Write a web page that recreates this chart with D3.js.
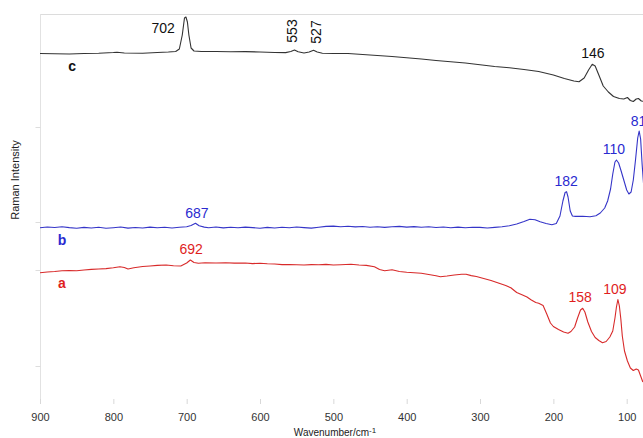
<!DOCTYPE html>
<html>
<head>
<meta charset="utf-8">
<script src="https://cdn.jsdelivr.net/npm/d3@7"></script>
<style>
  body { margin: 0; background: #fff; }
  svg { font-family: "Liberation Sans", Arial, sans-serif; }
</style>
</head>
<body>
<svg id="chart" width="643" height="438"></svg>
<script>
// spectrum c (black)
let wnC = [900, 880, 860, 840, 820, 800, 795, 785, 760, 740, 725, 715, 710, 706, 703, 701, 699, 697, 694, 690,
    680, 660, 640, 620, 600, 580, 565, 558, 553, 548, 540, 533, 527, 522, 515, 500, 480, 460, 440, 420,
    400, 380, 360, 340, 320, 300, 280, 260, 240, 220, 200, 185, 172, 165, 158, 152, 147, 143, 138, 132,
    125, 118, 110, 104, 99, 95, 91, 87, 84, 80, 76];
let intC = [350.5, 350.2, 350, 350.5, 350.7, 351.5, 351.8, 351, 350.8, 351.5, 352, 352.5, 355, 369, 386, 387, 382, 369, 356, 353,
    352.5, 352.5, 352.2, 352.4, 352, 351.5, 351.4, 352.5, 354, 352.2, 351, 352, 353.7, 352, 350.7, 350.5, 350.5, 349.5, 348.5, 347.5,
    346.2, 345, 343.5, 342.3, 341, 339.2, 337.5, 336.2, 334.5, 332.5, 329, 325.5, 323, 322.3, 326, 334, 339.7, 338, 329, 318,
    312, 307.5, 305.5, 305, 306.5, 303.5, 302.5, 305, 305.5, 303, 302.5];

// spectrum b (blue)
let wnB = [900, 890, 880, 870, 860, 850, 840, 830, 820, 810, 800, 790, 780, 770, 760, 750, 740, 730, 720, 710,
    700, 694, 688, 683, 676, 670, 660, 650, 640, 630, 620, 610, 600, 590, 580, 570, 560, 550, 540, 530,
    520, 510, 500, 490, 480, 470, 460, 450, 440, 430, 420, 410, 400, 390, 380, 370, 360, 350, 340, 330,
    320, 310, 300, 290, 280, 270, 260, 250, 240, 232, 225, 218, 210, 202, 196, 191, 187, 184, 182, 180,
    177, 174, 170, 160, 150, 142, 136, 130, 126, 122, 119, 116, 114, 111, 108, 104, 100, 97, 94, 91,
    88, 85, 83, 81, 79, 77];
let intB = [176.2, 177, 176.5, 177.2, 176.4, 175.8, 176.6, 176, 176.8, 175.7, 176.3, 177, 175.9, 176.5, 176, 176.9, 176.2, 176.7, 176, 176.8,
    177.3, 178.5, 180.7, 178.2, 176.9, 176.3, 177, 176.1, 176.8, 176.2, 176.9, 176.4, 175.8, 176.6, 176, 176.8, 176.2, 177, 176.4, 175.9,
    176.7, 177.6, 177.9, 177.2, 177.8, 177.1, 177.5, 176.8, 177.3, 176.6, 177.2, 177.6, 176.9, 177.4, 176.7, 177.2, 176.5, 177, 176.3, 176.9,
    176.2, 176.8, 176.6, 176, 176.6, 177.3, 178.2, 180, 182.5, 184.7, 184.3, 182.2, 180.5, 179.2, 180.5, 188, 203, 211.5, 212.3, 207,
    193, 188, 187.6, 187.8, 187.3, 188.3, 191, 196, 203, 215, 230, 242, 244, 241, 234, 224, 214, 210, 212, 224,
    244, 266, 273, 265, 240, 220];

// spectrum a (red)
let wnA = [900, 890, 880, 870, 860, 850, 840, 830, 820, 810, 800, 791, 785, 780, 772, 760, 750, 740, 728, 718,
    708, 700, 695, 690, 684, 675, 660, 647, 635, 620, 610, 600, 590, 580, 570, 560, 550, 540, 530, 520,
    510, 500, 490, 476, 465, 455, 444, 437, 430, 420, 410, 400, 390, 380, 370, 360, 354, 345, 335, 325,
    319, 312, 305, 295, 285, 274, 265, 258, 250, 242, 236, 230, 224, 220, 214, 209, 204, 200, 193, 186,
    180, 176, 171, 167, 163, 160, 157, 153, 148, 143, 138, 133, 128, 123, 119, 116, 114, 112, 110, 108,
    106, 103, 99, 95, 91, 87, 84, 81, 78];
let intA = [131.3, 132, 132.5, 133.2, 133.5, 133.2, 134, 134.6, 135, 135.4, 136.2, 137.3, 136.5, 135, 136.3, 137.5, 138, 138.6, 139, 138.2,
    138, 141, 144, 141.5, 140.7, 141.2, 141, 141.3, 140.9, 141, 140.4, 140.8, 140.2, 140, 139.4, 139.5, 139.2, 139, 139.4, 139.2,
    139.6, 139, 139.3, 139.7, 139, 138.6, 137.3, 134.5, 133.3, 134.2, 132.5, 131.8, 131.3, 130.7, 129.5, 128.3, 127.3, 128, 129, 129.7,
    129.7, 128.4, 127.5, 125.5, 123.5, 120.7, 118.5, 116.2, 111.5, 109, 107, 104, 101.5, 100.7, 98.5, 90, 81, 77.5, 74.5, 72,
    70.8, 72.5, 77, 86, 94, 95.7, 92, 82, 72.5, 66.5, 63.5, 61.3, 62.5, 67, 73, 86, 97, 104.5, 98, 85,
    68, 53, 43, 36, 33.5, 35, 34, 28, 22];

let xTicks = [900, 800, 700, 600, 500, 400, 300, 200, 100];
let yTicks = [38, 134, 182, 277];

// peak labels: text, series, anchor wavenumber, anchor intensity, rotated
let peakText = ["702", "553", "527", "146", "687", "182", "110", "81", "692", "158", "109"];
let peakSeries = ["c", "c", "c", "c", "b", "b", "b", "b", "a", "a", "a"];
let peakWn = [732, 556.5, 523.5, 146, 686, 182.5, 117.5, 84, 694, 163.5, 116];
let peakInt = [376, 373, 372, 351, 191, 223, 255, 283, 155, 107, 115];
let peakRot = [false, true, true, false, false, false, false, false, false, false, false];

let seriesName = ["c", "b", "a"];
let seriesLabelWn = [856, 870, 870];
let seriesLabelInt = [338, 164, 121];

const colors = {c: "#333333", b: "#3535c8", a: "#d82a2a"};
const textColors = {c: "#111111", b: "#2a2ad0", a: "#e01e1e"};

let svg = d3.select("#chart"),
    margin = {top: 14, left: 40, bottom: 34},
    height = +svg.attr("height") - margin.top - margin.bottom;

let x = d3.scaleLinear().domain([900, 100]).range([40, 626.7]);
let y = d3.scaleLinear().domain([0, 390]).range([404, 14]);

// frame: top border + left axis line
svg.append("line")
    .attr("x1", 40).attr("x2", 643)
    .attr("y1", 14.5).attr("y2", 14.5)
    .attr("stroke", "#dcdcdc");

let yAxis = svg.append("g")
    .attr("transform", "translate(40.5,0)")
    .call(d3.axisLeft(y).tickValues(yTicks).tickSize(5).tickFormat(""));
yAxis.select(".domain").attr("stroke", "#e2e2e2").attr("d", "M0,14V404");
yAxis.selectAll(".tick line").attr("stroke", "#dddddd");

let xAxis = svg.append("g")
    .attr("transform", "translate(0,404)")
    .call(d3.axisBottom(x).tickValues(xTicks).tickSize(-5).tickPadding(9));
xAxis.select(".domain").remove();
xAxis.selectAll(".tick line").attr("stroke", "#d8d8d8");
xAxis.selectAll(".tick text")
    .attr("font-size", 11)
    .attr("fill", "#333")
    .attr("font-family", "Liberation Sans, Arial, sans-serif");

// axis titles
let xt = svg.append("text")
    .attr("x", 335)
    .attr("y", 436)
    .attr("text-anchor", "middle")
    .attr("font-size", 10)
    .attr("fill", "#222")
    .text("Wavenumber/cm");
xt.append("tspan")
    .attr("dy", -3.5)
    .attr("font-size", 8)
    .text("-1");

svg.append("text")
    .attr("transform", "translate(19,180) rotate(-90)")
    .attr("text-anchor", "middle")
    .attr("font-size", 11)
    .attr("fill", "#222")
    .text("Raman Intensity");

// spectra
let line = d3.line()
    .x(d => x(d[0]))
    .y(d => y(d[1]));

let traces = [
    {key: "c", data: d3.zip(wnC, intC)},
    {key: "b", data: d3.zip(wnB, intB)},
    {key: "a", data: d3.zip(wnA, intA)}
];

svg.append("g")
    .selectAll("path")
    .data(traces)
    .enter().append("path")
    .attr("d", d => line(d.data))
    .attr("fill", "none")
    .attr("stroke", d => colors[d.key])
    .attr("stroke-width", 1.1)
    .attr("stroke-linejoin", "round");

// series letters
svg.append("g")
    .selectAll("text")
    .data(seriesName)
    .enter().append("text")
    .attr("x", (d, i) => x(seriesLabelWn[i]))
    .attr("y", (d, i) => y(seriesLabelInt[i]))
    .attr("dy", "0.35em")
    .attr("text-anchor", "middle")
    .attr("font-size", 14)
    .attr("font-weight", "bold")
    .attr("fill", d => textColors[d])
    .text(d => d);

// peak labels
svg.append("g")
    .selectAll("text")
    .data(peakText)
    .enter().append("text")
    .attr("transform", (d, i) => {
        let t = "translate(" + x(peakWn[i]) + "," + y(peakInt[i]) + ")";
        return peakRot[i] ? t + " rotate(-90)" : t;
    })
    .attr("dy", "0.36em")
    .attr("text-anchor", "middle")
    .attr("font-size", 14)
    .attr("fill", (d, i) => textColors[peakSeries[i]])
    .text(d => d);
</script>
</body>
</html>
